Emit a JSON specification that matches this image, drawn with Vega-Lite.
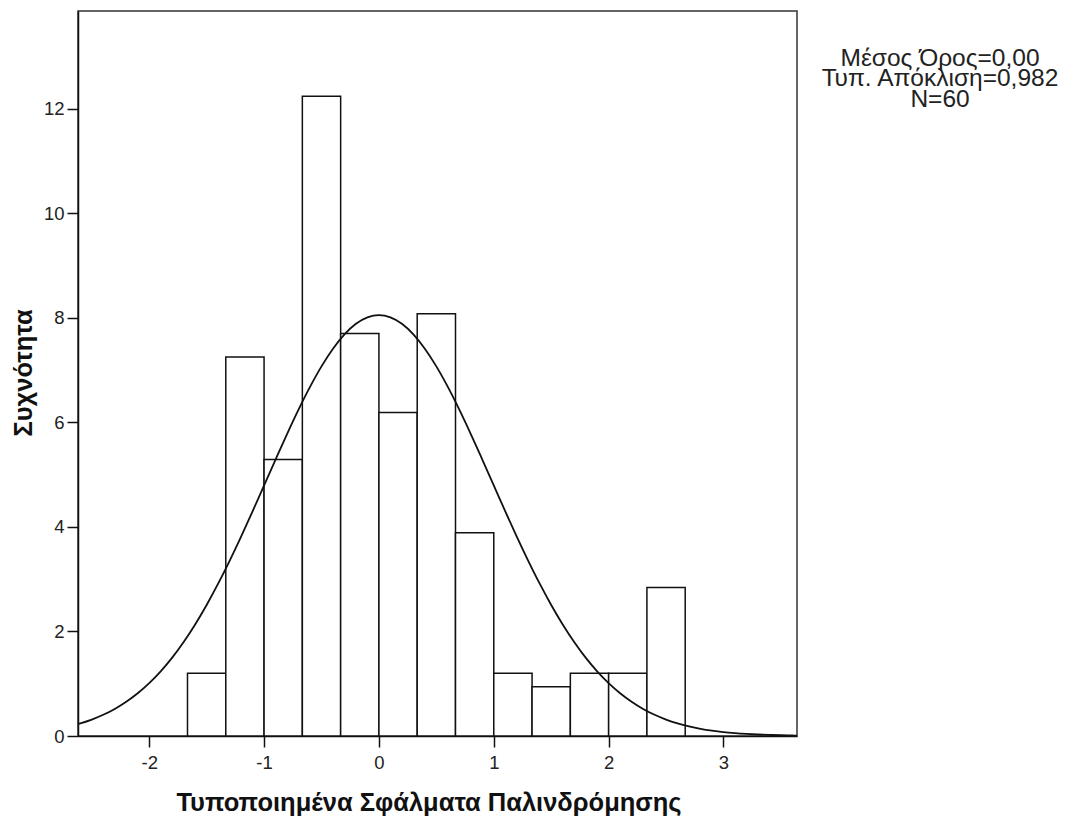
{
  "$schema": "https://vega.github.io/schema/vega-lite/v6.json",
  "width": 719,
  "height": 725,
  "autosize": "none",
  "padding": {"left": 78, "top": 11, "right": 276, "bottom": 82},
  "background": "white",
  "config": {
    "font": "Liberation Sans",
    "view": {"stroke": "#333333", "strokeWidth": 1.5},
    "axis": {
      "grid": false,
      "domainColor": "#111111",
      "domainWidth": 1.5,
      "tickColor": "#111111",
      "tickWidth": 1.5,
      "tickSize": 11,
      "labelFont": "Liberation Sans",
      "labelFontSize": 18.5,
      "labelColor": "#222222",
      "titleFont": "Liberation Sans",
      "titleFontSize": 25.5,
      "titleFontWeight": "bold",
      "titleColor": "#111111"
    }
  },
  "title": {
    "text": ["Μέσος Όρος=0,00", "Τυπ. Απόκλιση=0,982", "N=60"],
    "orient": "top",
    "anchor": "end",
    "frame": "group",
    "align": "center",
    "baseline": "top",
    "dx": 143,
    "dy": 101,
    "offset": 0,
    "font": "Liberation Sans",
    "fontSize": 24.5,
    "fontWeight": "normal",
    "lineHeight": 20.5,
    "color": "#222222"
  },
  "layer": [
    {
      "data": {
        "values": [
          {"bin_start": -1.6667, "bin_end": -1.3333, "frequency": 1.2},
          {"bin_start": -1.3333, "bin_end": -1.0, "frequency": 7.25},
          {"bin_start": -1.0, "bin_end": -0.6667, "frequency": 5.29},
          {"bin_start": -0.6667, "bin_end": -0.3333, "frequency": 12.24},
          {"bin_start": -0.3333, "bin_end": 0.0, "frequency": 7.7},
          {"bin_start": 0.0, "bin_end": 0.3333, "frequency": 6.19},
          {"bin_start": 0.3333, "bin_end": 0.6667, "frequency": 8.08},
          {"bin_start": 0.6667, "bin_end": 1.0, "frequency": 3.89},
          {"bin_start": 1.0, "bin_end": 1.3333, "frequency": 1.2},
          {"bin_start": 1.3333, "bin_end": 1.6667, "frequency": 0.94},
          {"bin_start": 1.6667, "bin_end": 2.0, "frequency": 1.2},
          {"bin_start": 2.0, "bin_end": 2.3333, "frequency": 1.2},
          {"bin_start": 2.3333, "bin_end": 2.6667, "frequency": 2.84}
        ]
      },
      "mark": {"type": "rect", "fill": "white", "stroke": "#111111", "strokeWidth": 1.5},
      "encoding": {
        "x": {
          "field": "bin_start",
          "type": "quantitative",
          "scale": {"domain": [-2.62, 3.64], "nice": false, "zero": false},
          "axis": {
            "values": [-2, -1, 0, 1, 2, 3],
            "labelExpr": "'' + datum.value",
            "labelPadding": 6,
            "title": "Τυποποιημένα Σφάλματα Παλινδρόμησης",
            "titleX": 350.5,
            "titleY": 74,
            "titleAlign": "center",
            "titleBaseline": "alphabetic"
          }
        },
        "x2": {"field": "bin_end"},
        "y": {
          "field": "frequency",
          "type": "quantitative",
          "scale": {"domain": [0, 13.87], "nice": false},
          "axis": {
            "values": [0, 2, 4, 6, 8, 10, 12],
            "labelExpr": "'' + datum.value",
            "labelPadding": 3,
            "title": "Συχνότητα",
            "titleAngle": 270,
            "titleX": -46.5,
            "titleY": 361.5,
            "titleAlign": "center",
            "titleBaseline": "alphabetic"
          }
        },
        "y2": {"datum": 0}
      }
    },
    {
      "data": {
        "values": [
          {"x": -2.62, "y": 0.229}, {"x": -2.6, "y": 0.242}, {"x": -2.5, "y": 0.315}, {"x": -2.4, "y": 0.406},
          {"x": -2.3, "y": 0.518}, {"x": -2.2, "y": 0.655}, {"x": -2.1, "y": 0.818}, {"x": -2.0, "y": 1.012},
          {"x": -1.9, "y": 1.238}, {"x": -1.8, "y": 1.5}, {"x": -1.7, "y": 1.799}, {"x": -1.6, "y": 2.135},
          {"x": -1.5, "y": 2.507}, {"x": -1.4, "y": 2.914}, {"x": -1.3, "y": 3.352}, {"x": -1.2, "y": 3.815},
          {"x": -1.1, "y": 4.299}, {"x": -1.0, "y": 4.793}, {"x": -0.9, "y": 5.289}, {"x": -0.8, "y": 5.777},
          {"x": -0.7, "y": 6.244}, {"x": -0.6, "y": 6.679}, {"x": -0.5, "y": 7.071}, {"x": -0.4, "y": 7.409},
          {"x": -0.3, "y": 7.683}, {"x": -0.2, "y": 7.885}, {"x": -0.1, "y": 8.008}, {"x": 0.0, "y": 8.05},
          {"x": 0.1, "y": 8.008}, {"x": 0.2, "y": 7.885}, {"x": 0.3, "y": 7.683}, {"x": 0.4, "y": 7.409},
          {"x": 0.5, "y": 7.071}, {"x": 0.6, "y": 6.679}, {"x": 0.7, "y": 6.244}, {"x": 0.8, "y": 5.777},
          {"x": 0.9, "y": 5.289}, {"x": 1.0, "y": 4.793}, {"x": 1.1, "y": 4.299}, {"x": 1.2, "y": 3.815},
          {"x": 1.3, "y": 3.352}, {"x": 1.4, "y": 2.914}, {"x": 1.5, "y": 2.507}, {"x": 1.6, "y": 2.135},
          {"x": 1.7, "y": 1.799}, {"x": 1.8, "y": 1.5}, {"x": 1.9, "y": 1.238}, {"x": 2.0, "y": 1.012},
          {"x": 2.1, "y": 0.818}, {"x": 2.2, "y": 0.655}, {"x": 2.3, "y": 0.518}, {"x": 2.4, "y": 0.406},
          {"x": 2.5, "y": 0.315}, {"x": 2.6, "y": 0.242}, {"x": 2.7, "y": 0.184}, {"x": 2.8, "y": 0.138},
          {"x": 2.9, "y": 0.103}, {"x": 3.0, "y": 0.0757}, {"x": 3.1, "y": 0.0552}, {"x": 3.2, "y": 0.0398},
          {"x": 3.3, "y": 0.0284}, {"x": 3.4, "y": 0.0201}, {"x": 3.5, "y": 0.014}, {"x": 3.6, "y": 0.0097},
          {"x": 3.64, "y": 0.0084}
        ]
      },
      "mark": {"type": "line", "color": "#111111", "strokeWidth": 1.8, "interpolate": "monotone"},
      "encoding": {
        "x": {"field": "x", "type": "quantitative"},
        "y": {"field": "y", "type": "quantitative"}
      }
    }
  ]
}
